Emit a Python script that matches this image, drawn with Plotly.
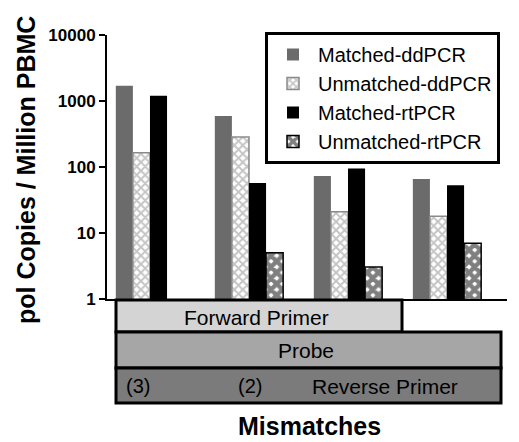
import plotly.graph_objects as go

# ---- data ----
groups = ["G1", "G2", "G3", "G4"]
matched_ddpcr = [1700, 590, 73, 66]
unmatched_ddpcr = [165, 285, 21, 18]
matched_rtpcr = [1200, 57, 95, 53]
unmatched_rtpcr = [None, 5.0, 3.05, 7.0]
y_ticks = [1, 10, 100, 1000, 10000]
y_ticklabels = ["1", "10", "100", "1000", "10000"]

FONT = "Liberation Sans, Arial, sans-serif"

fig = go.Figure()
fig.add_trace(go.Bar(
    name="Matched-ddPCR", x=groups, y=matched_ddpcr,
    marker=dict(color="#6b6b6b", line=dict(width=0)),
))
fig.add_trace(go.Bar(
    name="Unmatched-ddPCR", x=groups, y=unmatched_ddpcr,
    marker=dict(color="#ffffff", line=dict(width=1.5, color="#8a8a8a"),
                pattern=dict(shape="x", fgcolor="#8a8a8a", bgcolor="#ffffff",
                             size=6, solidity=0.55, fillmode="overlay")),
))
fig.add_trace(go.Bar(
    name="Matched-rtPCR", x=groups, y=matched_rtpcr,
    marker=dict(color="#000000", line=dict(width=0)),
))
fig.add_trace(go.Bar(
    name="Unmatched-rtPCR", x=groups, y=unmatched_rtpcr,
    marker=dict(color="#ffffff", line=dict(width=1.5, color="#000000"),
                pattern=dict(shape="x", fgcolor="#000000", bgcolor="#ffffff",
                             size=8, solidity=0.8, fillmode="overlay")),
))

# layout geometry (paper coords); plot area 107..507 px wide, 35..299 px tall
def px_x(px):
    return (px - 107) / 400.0

def px_y(py):
    return (299 - py) / 264.0

shapes = []
boxes = [
    (116, 402, 300, 332, "#d4d4d4"),
    (116, 501, 332, 368, "#a6a6a6"),
    (116, 501, 368, 403, "#7b7b7b"),
]
for x0, x1, y0, y1, col in boxes:
    shapes.append(dict(type="rect", xref="paper", yref="paper",
                       x0=px_x(x0), x1=px_x(x1), y0=px_y(y1), y1=px_y(y0),
                       fillcolor=col, line=dict(color="black", width=3),
                       layer="above"))

annotations = []
def ann(text, x, y, size, bold=False, angle=0, xanchor="center"):
    annotations.append(dict(text=text, xref="paper", yref="paper",
                            x=px_x(x), y=px_y(y), showarrow=False,
                            textangle=angle, xanchor=xanchor, yanchor="middle",
                            font=dict(family=FONT, size=size, color="black",
                                      weight="bold" if bold else "normal")))

ann("Forward Primer", 256, 317, 21)
ann("Probe", 306, 350, 21)
ann("Reverse Primer", 385, 386, 21)
ann("(3)", 138, 386, 20)
ann("(2)", 250, 386, 20)
ann("Mismatches", 309, 426, 25, bold=True)
ann("pol Copies / Million PBMC", 26, 170, 25, bold=True, angle=-90)

fig.update_layout(
    width=519, height=442,
    margin=dict(l=107, r=12, t=35, b=143, autoexpand=False),
    paper_bgcolor="white", plot_bgcolor="white",
    barmode="group", bargap=0.31, bargroupgap=0,
    font=dict(family=FONT, color="black"),
    showlegend=True,
    legend=dict(x=px_x(265), xanchor="left", y=px_y(32), yanchor="top",
                bordercolor="black", borderwidth=3, bgcolor="white",
                font=dict(family=FONT, size=20, color="black"),
                tracegroupgap=0, itemwidth=40),
    shapes=shapes,
    annotations=annotations,
)
fig.update_xaxes(range=[-0.434, 3.606], showticklabels=False, ticks="",
                 showline=True, linecolor="black", linewidth=2,
                 showgrid=False, zeroline=False, automargin=False)
fig.update_yaxes(type="log", range=[0, 4], tickvals=y_ticks, ticktext=y_ticklabels,
                 ticks="outside", ticklen=6, tickwidth=2, tickcolor="black",
                 showline=True, linecolor="black", linewidth=2,
                 showgrid=False, zeroline=False, automargin=False,
                 tickfont=dict(family=FONT, size=17, color="black", weight="bold"))

fig.write_html("out.html", config={"displayModeBar": False},
               post_script="document.body.style.margin='0px';document.body.style.overflow='hidden';")
